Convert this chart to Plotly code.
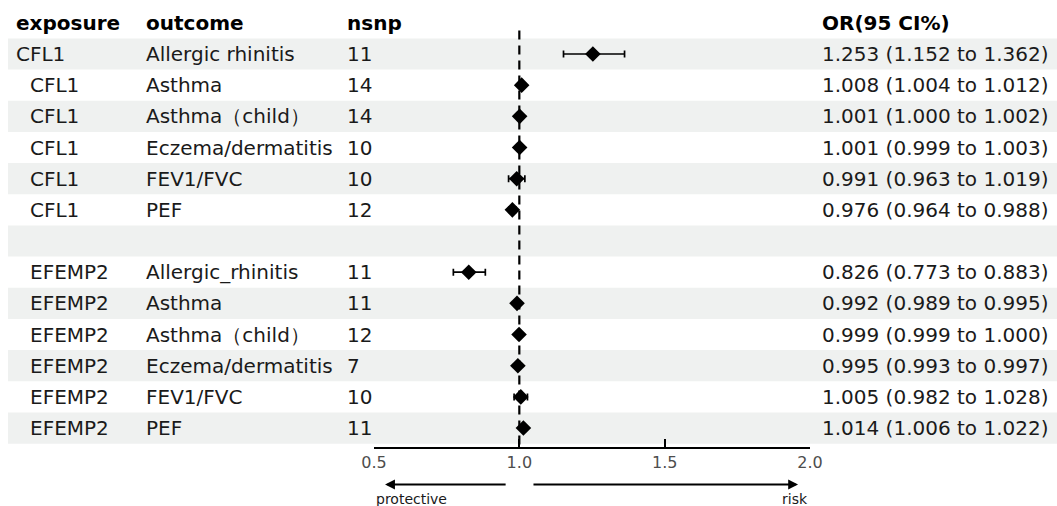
import plotly.graph_objects as go

exposure = ["CFL1", "CFL1", "CFL1", "CFL1", "CFL1", "CFL1", "",
            "EFEMP2", "EFEMP2", "EFEMP2", "EFEMP2", "EFEMP2", "EFEMP2"]
outcome = ["Allergic rhinitis", "Asthma", "Asthma（child）", "Eczema/dermatitis", "FEV1/FVC", "PEF", "",
           "Allergic_rhinitis", "Asthma", "Asthma（child）", "Eczema/dermatitis", "FEV1/FVC", "PEF"]
nsnp = ["11", "14", "14", "10", "10", "12", "", "11", "11", "12", "7", "10", "11"]
or_val = [1.253, 1.008, 1.001, 1.001, 0.991, 0.976, None, 0.826, 0.992, 0.999, 0.995, 1.005, 1.014]
ci_low = [1.152, 1.004, 1.000, 0.999, 0.963, 0.964, None, 0.773, 0.989, 0.999, 0.993, 0.982, 1.006]
ci_high = [1.362, 1.012, 1.002, 1.003, 1.019, 0.988, None, 0.883, 0.995, 1.000, 0.997, 1.028, 1.022]
headers = ["exposure", "outcome", "nsnp", "OR(95 CI%)"]
tick_vals = [0.5, 1.0, 1.5, 2.0]
tick_text = ["0.5", "1.0", "1.5", "2.0"]

W, H = 1057, 506
FONT = "DejaVu Sans"
FS = 20
rows = list(range(1, len(exposure) + 1))

fig = go.Figure()

# shaded bands
shapes = []
for r in rows:
    if r % 2 == 1:
        shapes.append(dict(type="rect", xref="paper", yref="y", x0=8 / W, x1=1,
                           y0=r - 0.5, y1=r + 0.5, fillcolor="#eff1f0",
                           line=dict(width=0), layer="below"))
# reference line
shapes.append(dict(type="line", xref="x", yref="y", x0=1.0, x1=1.0, y0=0.25, y1=13.61,
                   line=dict(color="black", width=2.2, dash="9px,6px")))

px, py, el, eh = [], [], [], []
for r, v, lo, hi in zip(rows, or_val, ci_low, ci_high):
    if v is None:
        continue
    px.append(v); py.append(r); el.append(v - lo); eh.append(hi - v)

fig.add_trace(go.Scatter(
    x=px, y=py, mode="markers",
    marker=dict(symbol="diamond", size=12, color="black"),
    error_x=dict(type="data", symmetric=False, array=eh, arrayminus=el,
                 color="black", thickness=1.7, width=3.5),
    showlegend=False, hoverinfo="skip"))

ann = []
col_x = [14 / W, 144 / W, 345 / W, 820 / W]
for cx, h in zip(col_x, headers):
    ann.append(dict(xref="paper", yref="y", x=cx, y=0, text="<b>%s</b>" % h,
                    xanchor="left", yanchor="middle", showarrow=False,
                    font=dict(family=FONT, size=FS, color="black")))
for i, r in enumerate(rows):
    if or_val[i] is None:
        continue
    ex_x = 14 / W if i == 0 else 28 / W
    texts = [exposure[i], outcome[i], nsnp[i],
             "%.3f (%.3f to %.3f)" % (or_val[i], ci_low[i], ci_high[i])]
    for cx, t in zip([ex_x] + col_x[1:], texts):
        ann.append(dict(xref="paper", yref="y", x=cx, y=r, text=t,
                        xanchor="left", yanchor="middle", showarrow=False,
                        font=dict(family=FONT, size=FS, color="#1a1a1a")))

arrow_y = (H - 484.5) / H
ann.append(dict(xref="x", yref="paper", x=0.538, y=arrow_y, axref="x", ax=0.958,
                ayref="pixel", ay=0, text="", showarrow=True, arrowhead=2,
                arrowsize=1.1, arrowwidth=1.8, arrowcolor="black"))
ann.append(dict(xref="x", yref="paper", x=1.959, y=arrow_y, axref="x", ax=1.0435,
                ayref="pixel", ay=0, text="", showarrow=True, arrowhead=2,
                arrowsize=1.1, arrowwidth=1.8, arrowcolor="black"))
ann.append(dict(xref="x", yref="paper", x=0.5, y=(H - 499) / H, text="protective",
                xanchor="left", yanchor="middle", showarrow=False,
                font=dict(family=FONT, size=14, color="#1a1a1a")))
ann.append(dict(xref="x", yref="paper", x=2.0, y=(H - 499) / H, text="risk",
                xanchor="right", yanchor="middle", showarrow=False,
                font=dict(family=FONT, size=14, color="#1a1a1a")))

fig.update_layout(
    width=W, height=H, margin=dict(l=0, r=0, t=0, b=0, autoexpand=False),
    paper_bgcolor="white", plot_bgcolor="rgba(0,0,0,0)",
    shapes=shapes, annotations=ann,
    xaxis=dict(domain=[374 / W, 810 / W], range=[0.5, 2.0], showline=True,
               linecolor="black", linewidth=1.6, ticks="inside", ticklen=8,
               tickwidth=1.6, tickcolor="black", tickvals=tick_vals, ticktext=tick_text,
               tickfont=dict(family=FONT, size=16, color="#4d4d4d"),
               showgrid=False, zeroline=False, fixedrange=True, automargin=False),
    yaxis=dict(domain=[(H - 447) / H, 1], range=[13.608, -0.7325], visible=False,
               showgrid=False, zeroline=False, fixedrange=True),
)

fig.write_html("out.html")
